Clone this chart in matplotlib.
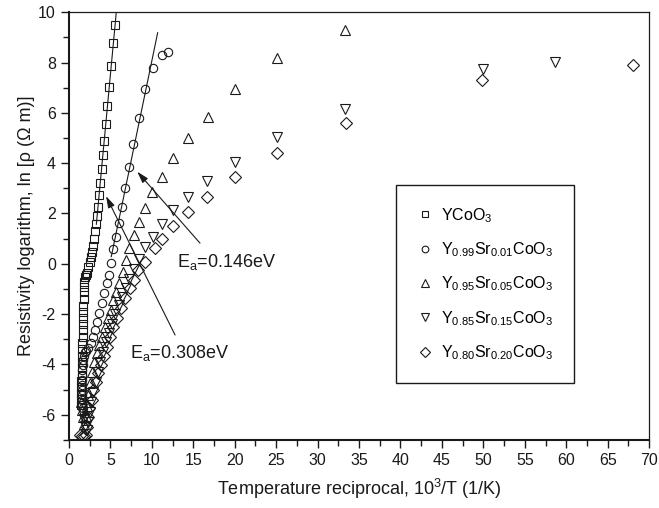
import numpy as np
import matplotlib
matplotlib.use('Agg')
import matplotlib.pyplot as plt
from matplotlib.ticker import MultipleLocator

plt.rcParams['font.family'] = ['Liberation Sans', 'DejaVu Sans']
plt.rcParams['mathtext.fontset'] = 'custom'
plt.rcParams['mathtext.rm'] = 'Liberation Sans'
plt.rcParams['axes.unicode_minus'] = False

# YCoO3
x_y100 = [5.56, 5.35, 5.11, 4.87, 4.62, 4.43, 4.26, 4.07, 3.95, 3.78, 3.66, 3.46,
          3.34, 3.22, 3.10, 2.98, 2.86, 2.74, 2.62, 2.50, 2.33, 2.14, 2.02, 1.93,
          1.85, 1.81, 1.79, 1.76, 1.74, 1.73, 1.70, 1.68, 1.67, 1.64, 1.62, 1.61,
          1.58, 1.56, 1.55, 1.52, 1.50, 1.49, 1.46, 1.44, 1.42]
y_y100 = [9.51, 8.78, 7.86, 7.03, 6.28, 5.57, 4.87, 4.32, 3.75, 3.23, 2.74, 2.27,
          1.91, 1.58, 1.30, 0.98, 0.70, 0.48, 0.28, 0.06, -0.12, -0.36, -0.46, -0.54,
          -0.71, -0.91, -1.14, -1.40, -1.66, -1.90, -2.15, -2.41, -2.64, -2.90, -3.16, -3.40,
          -3.66, -3.89, -4.15, -4.41, -4.64, -4.90, -5.16, -5.39, -5.60]

# Y0.99Sr0.01CoO3
x_sr01 = [11.91, 11.19, 10.10, 9.14, 8.45, 7.76, 7.28, 6.79, 6.36, 5.99, 5.67, 5.35,
          5.07, 4.79, 4.55, 4.26, 3.95, 3.66, 3.42, 3.14, 2.93, 2.66, 2.33, 2.10,
          1.95, 1.82, 1.73, 1.66, 1.61, 1.56, 1.53, 1.52, 1.52, 1.54, 1.57, 1.60, 1.66]
y_sr01 = [8.42, 8.29, 7.77, 6.93, 5.80, 4.78, 3.83, 3.00, 2.27, 1.63, 1.05, 0.57,
          0.02, -0.45, -0.78, -1.17, -1.57, -1.97, -2.30, -2.63, -2.90, -3.16, -3.36, -3.45,
          -3.52, -3.65, -3.82, -4.02, -4.22, -4.42, -4.62, -4.82, -5.02, -5.22, -5.41, -5.60, -5.75]

# Y0.95Sr0.05CoO3
x_sr05 = [33.35, 25.06, 20.07, 16.77, 14.32, 12.59, 11.19, 10.02, 9.17, 8.45, 7.84, 7.28,
          6.84, 6.48, 6.03, 5.67, 5.35, 5.03, 4.67, 4.34, 3.95, 3.62, 3.34, 3.05,
          2.80, 2.55, 2.35, 2.15, 2.00, 1.85, 1.70, 1.55, 1.40]
y_sr05 = [9.31, 8.16, 6.93, 5.84, 4.98, 4.19, 3.46, 2.84, 2.20, 1.67, 1.14, 0.61,
          0.15, -0.32, -0.78, -1.11, -1.44, -1.84, -2.17, -2.50, -2.90, -3.23, -3.56, -3.90,
          -4.30, -4.75, -5.20, -5.65, -6.05, -6.35, -6.10, -5.80, -5.50]

# Y0.85Sr0.15CoO3
x_sr15 = [58.65, 50.00, 33.35, 25.06, 20.03, 16.69, 14.40, 12.59, 11.19, 10.10, 9.17, 8.45,
          7.84, 7.28, 6.84, 6.40, 6.00, 5.60, 5.20, 4.85, 4.50, 4.15, 3.80, 3.50,
          3.20, 2.95, 2.70, 2.50, 2.30, 2.15, 1.95, 1.75, 1.55]
y_sr15 = [8.02, 7.76, 6.17, 5.05, 4.05, 3.30, 2.64, 2.13, 1.58, 1.07, 0.65, 0.20,
          -0.20, -0.60, -0.95, -1.30, -1.65, -2.00, -2.40, -2.75, -3.10, -3.50, -3.90, -4.30,
          -4.70, -5.10, -5.50, -5.90, -6.30, -6.60, -6.45, -6.15, -5.90]

# Y0.80Sr0.20CoO3
x_sr20 = [68.03, 49.84, 33.43, 25.14, 20.03, 16.69, 14.40, 12.59, 11.19, 10.38, 9.17, 8.36,
          7.84, 7.36, 6.76, 6.28, 5.83, 5.35, 4.95, 4.55, 4.22, 3.82, 3.54, 3.26,
          2.93, 2.74, 2.45, 2.33, 2.14, 2.05, 1.80, 1.55, 1.33]
y_sr20 = [7.92, 7.30, 5.60, 4.39, 3.46, 2.66, 2.04, 1.50, 0.98, 0.61, 0.08, -0.25,
          -0.65, -0.98, -1.37, -1.77, -2.17, -2.50, -2.90, -3.29, -3.66, -4.02, -4.35, -4.68,
          -5.01, -5.41, -5.74, -6.07, -6.47, -6.80, -6.85, -6.85, -6.80]

labels = ['YCoO$_\\mathregular{3}$',
          'Y$_\\mathregular{0.99}$Sr$_\\mathregular{0.01}$CoO$_\\mathregular{3}$',
          'Y$_\\mathregular{0.95}$Sr$_\\mathregular{0.05}$CoO$_\\mathregular{3}$',
          'Y$_\\mathregular{0.85}$Sr$_\\mathregular{0.15}$CoO$_\\mathregular{3}$',
          'Y$_\\mathregular{0.80}$Sr$_\\mathregular{0.20}$CoO$_\\mathregular{3}$']

fig = plt.figure(figsize=(6.59, 5.08), dpi=100)
ax = fig.add_axes([0.1047, 0.134, 0.8803, 0.842])

ink = '#1a1a1a'
series = [(x_y100, y_y100, 's', 5.5), (x_sr01, y_sr01, 'o', 6.0),
          (x_sr05, y_sr05, '^', 7.5), (x_sr15, y_sr15, 'v', 7.5),
          (x_sr20, y_sr20, 'D', 5.8)]
for (xs, ys, m, ms), lab in zip(series, labels):
    ax.plot(xs, ys, linestyle='none', marker=m, ms=ms, mfc='none', mec=ink,
            mew=0.8, label=lab)

# linear fits of the straight parts
xa, ya = np.array(x_y100), np.array(y_y100)
sel = ya > 2.0
k1, b1 = np.polyfit(xa[sel], ya[sel], 1)
xf1 = np.linspace(3.3, 6.0, 20)
ax.plot(xf1, k1 * xf1 + b1, color=ink, lw=0.8)

xb, yb = np.array(x_sr01), np.array(y_sr01)
sel = (yb > 0.3) & (yb < 8.0)
k2, b2 = np.polyfit(xb[sel], yb[sel], 1)
xf2 = np.linspace(5.1, 10.7, 20)
ax.plot(xf2, k2 * xf2 + b2, color=ink, lw=0.8)

arrow = dict(arrowstyle='-|>,head_length=0.5,head_width=0.15', color=ink,
             lw=0.8, mutation_scale=14, shrinkA=0, shrinkB=0)
ax.annotate('', xy=(8.24, 3.66), xytext=(15.81, 0.82), arrowprops=arrow)
ax.annotate('', xy=(4.47, 2.69), xytext=(12.8, -2.83), arrowprops=arrow)
ax.text(13.0, -0.13, 'E$_\\mathregular{a}$=0.146eV', fontsize=13, color=ink,
        ha='left', va='baseline')
ax.text(7.4, -3.74, 'E$_\\mathregular{a}$=0.308eV', fontsize=13, color=ink,
        ha='left', va='baseline')

ax.set_xlim(0, 70)
ax.set_ylim(-7, 10)
ax.xaxis.set_major_locator(MultipleLocator(5))
ax.xaxis.set_minor_locator(MultipleLocator(2.5))
ax.yaxis.set_major_locator(MultipleLocator(2))
ax.yaxis.set_minor_locator(MultipleLocator(1))
ax.set_yticks(np.arange(-6, 11, 2))
ax.tick_params(which='both', direction='out', top=False, right=False,
               labelsize=11.5, colors=ink, width=1.0)
ax.tick_params(which='major', length=6)
ax.tick_params(which='minor', length=4)
for side in ['left', 'bottom']:
    ax.spines[side].set_linewidth(1.5)
for side in ['top', 'right']:
    ax.spines[side].set_linewidth(0.9)
for s in ax.spines.values():
    s.set_color(ink)

ax.set_xlabel('Temperature reciprocal, 10$^\\mathregular{3}$/T (1/K)', fontsize=13,
              color=ink, labelpad=6)
ax.set_ylabel('Resistivity logarithm, ln [ρ (Ω m)]', fontsize=13, color=ink,
              labelpad=2)

leg = ax.legend(loc='upper left', bbox_to_anchor=(0.5638, 0.5958), fontsize=11.5,
                frameon=True, fancybox=False, borderpad=1.3, labelspacing=0.98,
                handlelength=1.0, handletextpad=0.5, markerscale=0.8,
                borderaxespad=0)
leg.get_frame().set_edgecolor(ink)
leg.get_frame().set_linewidth(1.0)
leg.get_frame().set_alpha(None)

fig.savefig('out.png', dpi=100)
